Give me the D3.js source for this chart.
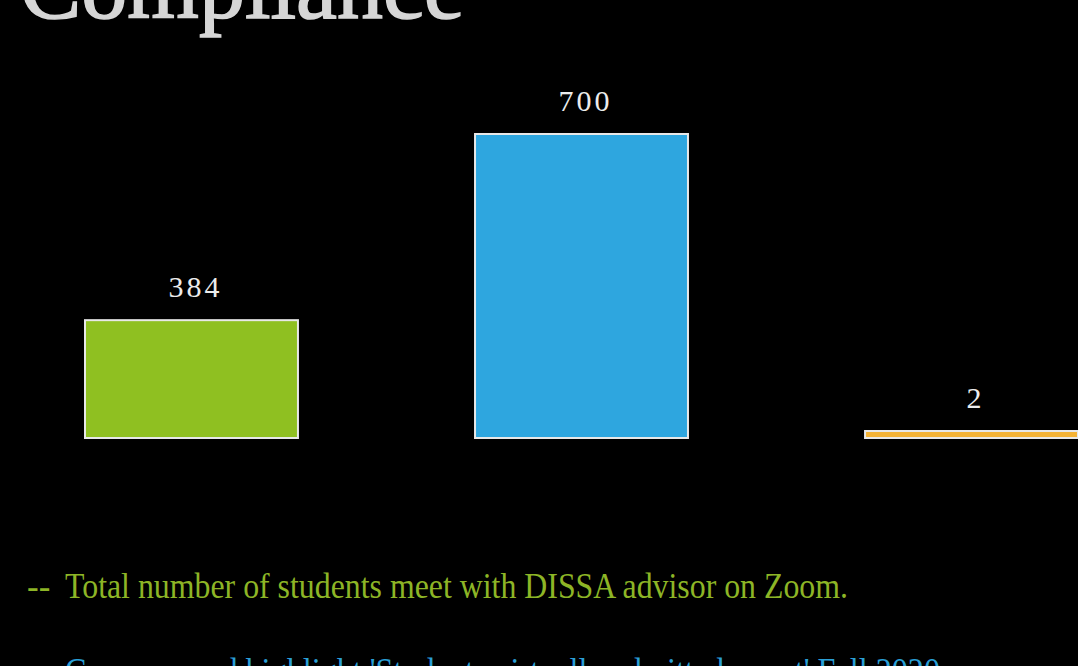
<!DOCTYPE html>
<html lang="en">
<head>
    <meta charset="UTF-8">
    <title>Compliance</title>
    <script src="https://d3js.org/d3.v7.min.js"></script>
    <style>
        body { margin: 0; background: #000; overflow: hidden; }
    </style>
</head>
<body>
<script>
    // chart data
    var categories = ["Zoom meetings", "Virtual admits", "Other"];
    var values = [384, 700, 2];
    var barColors = ["#8fc021", "#2ea6df", "#f5b335"];
    var notes = [
        "Total number of students meet with DISSA  advisor on Zoom.",
        "Compare and highlight 'Students virtually admitted count' Fall 2020"
    ];
    var noteColors = ["#8db526", "#2a9fd6"];

    var width = 1078, height = 666;
    var baseline = 438;

    var svg = d3.select("body").append("svg")
        .attr("width", width)
        .attr("height", height)
        .style("background", "#000");

    // title, mostly cut off at the top of the slide
    svg.append("text")
        .attr("x", 20)
        .attr("y", 18)
        .style("font-family", "'Liberation Serif', 'Times New Roman', serif")
        .style("font-size", "92px")
        .style("fill", "#d6d6d6")
        .style("stroke", "#d6d6d6")
        .style("stroke-width", 1.6)
        .text("Compliance");

    var x = d3.scaleBand()
        .domain(categories)
        .range([86, 1079])
        .paddingInner(0.454)
        .paddingOuter(0);

    // value axis does not start at zero on the slide
    var y = d3.scaleLinear()
        .domain([184, 700])
        .range([baseline, 134])
        .clamp(true);

    var minBar = 7;

    svg.selectAll("rect.bar")
        .data(values)
        .enter()
        .append("rect")
        .attr("class", "bar")
        .attr("x", function(d, i) { return x(categories[i]) - 1; })
        .attr("y", function(d) { return Math.min(y(d), baseline - minBar); })
        .attr("width", x.bandwidth())
        .attr("height", function(d) { return baseline - Math.min(y(d), baseline - minBar); })
        .style("fill", function(d, i) { return barColors[i]; })
        .style("stroke", "#e8e8e8")
        .style("stroke-width", 2);

    // value labels
    svg.selectAll("text.val")
        .data(values)
        .enter()
        .append("text")
        .attr("class", "val")
        .attr("x", function(d, i) { return x(categories[i]) + x.bandwidth() / 2 + 3; })
        .attr("y", function(d) { return Math.min(y(d), baseline - minBar) - 23; })
        .attr("text-anchor", "middle")
        .style("font-family", "'Liberation Serif', 'Times New Roman', serif")
        .style("font-size", "30px")
        .style("letter-spacing", "3px")
        .style("fill", "#ececec")
        .text(function(d) { return d; });

    // notes under the chart
    var noteY = [598, 683];
    notes.forEach(function(n, i) {
        svg.append("text")
            .attr("x", 27)
            .attr("y", noteY[i])
            .style("font-family", "'Liberation Serif', 'Times New Roman', serif")
            .style("font-size", "35px")
            .style("fill", noteColors[i])
            .text("--");
        svg.append("text")
            .attr("x", 65)
            .attr("y", noteY[i])
            .attr("textLength", i === 0 ? 783 : 875)
            .attr("lengthAdjust", "spacingAndGlyphs")
            .style("font-family", "'Liberation Serif', 'Times New Roman', serif")
            .style("font-size", "35px")
            .style("fill", noteColors[i])
            .text(n);
    });
</script>
</body>
</html>
